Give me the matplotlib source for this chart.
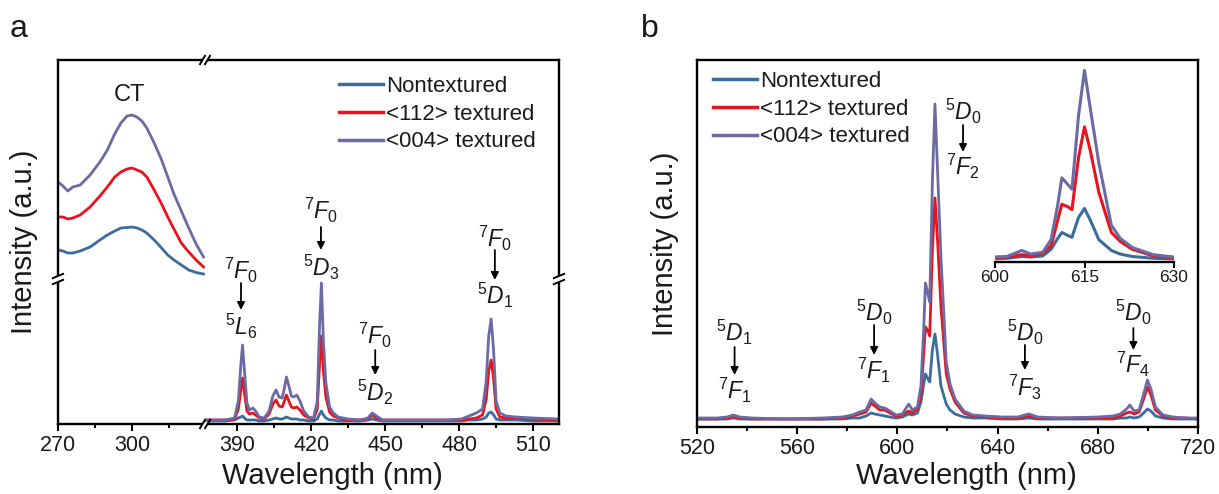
#----------------------------------------------------------------------------------------------------
# Make imports
#----------------------------------------------------------------------------------------------------
import matplotlib
matplotlib.use("Agg")
import matplotlib.pyplot as plt
from matplotlib.lines import Line2D

plt.rcParams["font.family"] = ["Liberation Sans", "DejaVu Sans"]
plt.rcParams["mathtext.fontset"] = "custom"
plt.rcParams["mathtext.rm"] = "Liberation Sans"
plt.rcParams["mathtext.it"] = "Liberation Sans:italic"
plt.rcParams["mathtext.bf"] = "Liberation Sans:bold"

#----------------------------------------------------------------------------------------------------
# Data (intensity in arbitrary units)
#----------------------------------------------------------------------------------------------------
labels = ["Nontextured", "<112> textured", "<004> textured"]
colors = ["#3a6c9c", "#e8131d", "#6b6aa3"]

# (a) CT band, left of the x-axis break
wl_ct = [270, 272, 274, 276, 279, 283, 287, 290, 293, 295.5, 298, 300, 302, 304, 306, 309, 312,
         314.5, 317, 320, 323, 326, 329]
ct_non = [171, 170, 168, 168, 170, 174, 181, 186, 190, 193, 193.5, 194, 193, 191, 188, 181, 173,
          166, 161, 156, 151, 148.5, 147]
ct_112 = [204, 204, 202, 203, 206, 214, 225, 234, 244, 249, 252, 253, 251, 249, 244, 231, 217,
          204, 192, 178, 169, 161, 154]
ct_004 = [239, 235, 230, 234, 236, 246, 259, 271, 287, 298, 305, 306, 304, 300, 293, 278, 261,
          244, 227, 210, 193, 177, 164]

# (a) 4f-4f excitation lines, right of the break
wl_exc = [377, 385, 389, 390.5, 391.5, 392.2, 393, 394, 395, 396.4,
          397.5, 399, 401, 403, 404.5, 405.8, 407, 408.3, 409.2, 410,
          411, 412, 413, 414.2, 415.5, 417, 419, 421, 422.5, 423.5,
          424.2, 425, 426, 427.5, 429, 431, 435, 440, 443, 444.8,
          446.5, 449, 455, 465, 475, 481, 484, 487, 489.5, 491,
          492, 493, 494, 495, 496.5, 499, 503, 510, 520]
exc_non = [0, 0, 1, 3, 4, 5, 3, 1, 1, 1,
           1, 0, 0, 1, 2, 3, 2, 2, 3, 4,
           3, 2, 2, 2, 1, 1, 0, 0, 2, 7,
           10, 6, 3, 1, 1, 0, 0, 0, 1, 2,
           1, 0, 0, 0, 0, 0, 1, 1, 2, 4,
           8, 9, 6, 2, 1, 1, 1, 0, 0]
exc_112 = [1, 1, 2, 12, 30, 43, 28, 10, 7, 8,
           6, 3, 2, 7, 17, 21, 15, 14, 20, 26,
           20, 14, 13, 14, 11, 6, 3, 2, 12, 60,
           85, 50, 24, 9, 5, 3, 1, 1, 2, 6,
           3, 1, 1, 1, 1, 1, 2, 3, 6, 22,
           50, 61, 42, 12, 4, 3, 3, 2, 1]
exc_004 = [1, 1, 3, 20, 55, 76, 50, 18, 11, 13,
           10, 4, 3, 10, 25, 31, 24, 23, 33, 44,
           35, 25, 24, 26, 20, 10, 4, 3, 20, 100,
           138, 80, 38, 14, 8, 4, 2, 1, 3, 8,
           5, 1, 1, 1, 1, 2, 5, 8, 12, 40,
           85, 102, 70, 20, 8, 5, 4, 3, 2]

# (b) emission spectra
wl_em = [520, 528, 532, 534.5, 537, 542, 555, 570, 578, 582,
         585, 587.5, 589.5, 591, 593, 595, 597, 599.5, 602, 604.5,
         606, 608, 609.4, 610.5, 611.2, 612.2, 612.9, 614, 615, 616,
         617.4, 619.5, 621, 623, 626.5, 630, 635, 642, 648, 652.5,
         656, 665, 680, 686, 689, 691.5, 692.8, 694.5, 696.5, 698.3,
         699.8, 701.2, 703, 706, 710, 715, 720]
em_non = [0, 0, 0, 1, 0, 0, 0, 0, 0, 1,
          1, 3, 6, 5, 4, 3, 2, 1, 2, 5,
          4, 6, 17, 35, 45, 40, 37, 70, 85, 65,
          33, 15, 9, 5, 2, 1, 1, 0, 0, 1,
          0, 0, 0, 0, 1, 1, 2, 1, 2, 6,
          10, 8, 3, 1, 0, 0, 0]
em_112 = [0, 0, 1, 2, 1, 0, 0, 0, 1, 3,
          5, 7, 16, 13, 9, 9, 6, 3, 4, 8,
          6, 10, 23, 65, 92, 88, 83, 170, 221, 180,
          112, 45, 30, 17, 6, 3, 2, 1, 1, 3,
          1, 1, 1, 1, 3, 6, 7, 5, 7, 20,
          32, 24, 9, 3, 1, 1, 0]
em_004 = [1, 1, 2, 4, 2, 1, 0, 1, 2, 4,
          7, 9, 20, 16, 12, 11, 8, 4, 5, 15,
          9, 12, 33, 90, 136, 125, 117, 240, 315, 250,
          161, 57, 35, 20, 8, 4, 3, 2, 2, 5,
          2, 1, 2, 3, 5, 10, 14, 8, 9, 25,
          39, 30, 12, 4, 2, 1, 1]

ct_sets = [ct_non, ct_112, ct_004]
exc_sets = [exc_non, exc_112, exc_004]
em_sets = [em_non, em_112, em_004]

#----------------------------------------------------------------------------------------------------
# Figure layout (pixel based, 1219 x 494)
#----------------------------------------------------------------------------------------------------
W, H = 1219, 494
fig = plt.figure(figsize=(W / 100, H / 100), dpi=100)


def box(left, top, right, bottom):
    return [left / W, (H - bottom) / H, (right - left) / W, (bottom - top) / H]


def fx(px):
    return px / W


def fy(py):
    return (H - py) / H


ax_a1 = fig.add_axes(box(58, 60, 205, 424))
ax_a2 = fig.add_axes(box(205, 60, 559, 424))
ax_b = fig.add_axes(box(697, 60, 1198, 427))
ax_in = fig.add_axes(box(995, 62, 1174, 262))
ax_in.patch.set_alpha(0)

LW_SPINE = 1.7
LW_DATA = 2.0
TEXT = "#1a1a1a"


def style_ticks(ax, size=15.5):
    ax.tick_params(axis="x", which="major", direction="out", length=5, width=1.5,
                   labelsize=size, pad=3, top=False, labelcolor=TEXT)
    ax.tick_params(axis="x", which="minor", direction="out", length=3, width=1.5, top=False)
    ax.set_yticks([])
    for s in ax.spines.values():
        s.set_linewidth(LW_SPINE)


#----------------------------------------------------------------------------------------------------
# Panel a
#----------------------------------------------------------------------------------------------------
for y, c, lab in zip(ct_sets, colors, labels):
    ax_a1.plot(wl_ct, y, color=c, lw=LW_DATA, label=lab)
for y, c in zip(exc_sets, colors):
    ax_a2.plot(wl_exc, y, color=c, lw=LW_DATA)

ax_a1.set_xlim(270, 329.6)
ax_a2.set_xlim(377, 520.5)
ax_a1.set_ylim(-3, 361)
ax_a2.set_ylim(-3, 361)
ax_a1.set_xticks([270, 300])
ax_a1.set_xticks([285, 315], minor=True)
ax_a2.set_xticks([390, 420, 450, 480, 510])
ax_a2.set_xticks([405, 435, 465, 495], minor=True)
style_ticks(ax_a1)
style_ticks(ax_a2)
ax_a1.spines["right"].set_visible(False)
ax_a2.spines["left"].set_visible(False)

ax_a1.set_ylabel("Intensity (a.u.)", fontsize=21, color=TEXT)
ax_a1.yaxis.set_label_coords(-0.136, 0.5)

ax_a1.text(299, 326, "CT", fontsize=17, ha="center", va="center", color=TEXT)

leg = ax_a2.legend(*ax_a1.get_legend_handles_labels(), loc="upper left",
                   bbox_to_anchor=(0.3785, 0.956), frameon=False, fontsize=16,
                   handlelength=2.0, handletextpad=0.1, labelspacing=0.3,
                   borderpad=0, borderaxespad=0, labelcolor=TEXT)
for h in leg.get_lines():
    h.set_linewidth(2.5)

arrow_kw = dict(arrowstyle="-|>", color="black", lw=1.3, mutation_scale=11,
                shrinkA=0, shrinkB=0)


def transition(ax, x, top_txt, bot_txt, y_top, y_tail, y_tip, y_bot):
    ax.text(x, y_top, top_txt, fontsize=16.5, ha="center", va="center", color=TEXT)
    ax.annotate("", xy=(x, y_tip), xytext=(x, y_tail), arrowprops=arrow_kw)
    ax.text(x, y_bot, bot_txt, fontsize=16.5, ha="center", va="center", color=TEXT)


transition(ax_a2, 391.6, "$^{7}F_{0}$", "$^{5}L_{6}$", 151, 138, 111, 95)
transition(ax_a2, 424.0, "$^{7}F_{0}$", "$^{5}D_{3}$", 211, 194, 171, 154)
transition(ax_a2, 446.0, "$^{7}F_{0}$", "$^{5}D_{2}$", 86, 71, 46, 29)
transition(ax_a2, 494.5, "$^{7}F_{0}$", "$^{5}D_{1}$", 183, 171, 141, 126)

#----------------------------------------------------------------------------------------------------
# Axis break marks on panel a
#----------------------------------------------------------------------------------------------------


def seg(x0, y0, x1, y1, color="black", lw=1.4):
    fig.add_artist(Line2D([fx(x0), fx(x1)], [fy(y0), fy(y1)], color=color, lw=lw,
                          solid_capstyle="butt"))


def break_h(x, y):
    seg(x - 2.5, y, x + 2.5, y, color="white", lw=3)
    for dx in (-2.5, 2.5):
        seg(x + dx - 3, y + 5, x + dx + 3, y - 5)


def break_v(x, y):
    seg(x, y - 3, x, y + 3, color="white", lw=3)
    for dy in (-3, 3):
        seg(x - 6, y + dy + 2.5, x + 6, y + dy - 2.5)


break_h(205, 60)
break_h(205, 424)
break_v(58, 279)
break_v(559, 279)

#----------------------------------------------------------------------------------------------------
# Panel b
#----------------------------------------------------------------------------------------------------
for y, c, lab in zip(em_sets, colors, labels):
    ax_b.plot(wl_em, y, color=c, lw=LW_DATA, label=lab)
    ax_in.plot(wl_em, y, color=c, lw=2.2)

ax_b.set_xlim(520, 720)
ax_b.set_ylim(-8, 359)
ax_b.set_xticks([520, 560, 600, 640, 680, 720])
ax_b.set_xticks([540, 580, 620, 660, 700], minor=True)
style_ticks(ax_b)
ax_b.set_ylabel("Intensity (a.u.)", fontsize=21, color=TEXT)
ax_b.yaxis.set_label_coords(-0.036, 0.5)

leg_b = ax_b.legend(loc="upper left", bbox_to_anchor=(0.032, 0.970), frameon=False,
                    fontsize=16, handlelength=2.0, handletextpad=0.1, labelspacing=0.3,
                    borderpad=0, borderaxespad=0, labelcolor=TEXT)
for h in leg_b.get_lines():
    h.set_linewidth(2.5)

transition(ax_b, 535.0, "$^{5}D_{1}$", "$^{7}F_{1}$", 87, 72, 44, 29)
transition(ax_b, 590.7, "$^{5}D_{0}$", "$^{7}F_{1}$", 107, 94, 64, 49)
transition(ax_b, 626.2, "$^{5}D_{0}$", "$^{7}F_{2}$", 308, 294, 267, 253)
transition(ax_b, 650.9, "$^{5}D_{0}$", "$^{7}F_{3}$", 87, 74, 49, 32)
transition(ax_b, 694.2, "$^{5}D_{0}$", "$^{7}F_{4}$", 107, 91, 69, 55)

# inset zoom on the 5D0 -> 7F2 line
ax_in.set_xlim(600, 630)
ax_in.set_ylim(-4.2, 329)
ax_in.set_xticks([600, 615, 630])
ax_in.tick_params(axis="x", direction="out", length=4, width=1.5, labelsize=12.5, pad=2,
                  labelcolor=TEXT)
ax_in.set_yticks([])
for side in ["left", "right", "top"]:
    ax_in.spines[side].set_visible(False)
ax_in.spines["bottom"].set_linewidth(LW_SPINE)

#----------------------------------------------------------------------------------------------------
# Shared labels
#----------------------------------------------------------------------------------------------------
fig.text(fx(332), fy(484), "Wavelength (nm)", fontsize=21, ha="center", va="baseline", color=TEXT)
fig.text(fx(966), fy(484), "Wavelength (nm)", fontsize=21, ha="center", va="baseline", color=TEXT)
fig.text(fx(10), fy(37), "a", fontsize=23, ha="left", va="baseline", color=TEXT)
fig.text(fx(641), fy(37), "b", fontsize=23, ha="left", va="baseline", color=TEXT)

fig.savefig("out.png", dpi=100)
